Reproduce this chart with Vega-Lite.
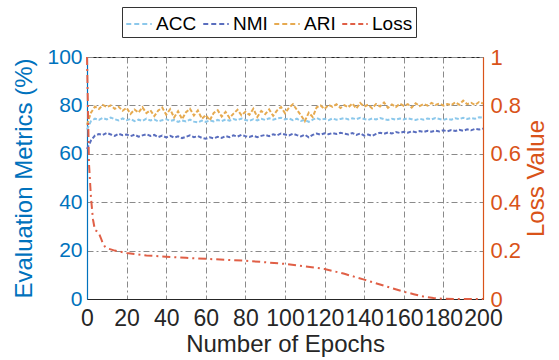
{
  "$schema": "https://vega.github.io/schema/vega-lite/v6.json",
  "autosize": "none",
  "width": 396,
  "height": 242,
  "padding": {"left": 87, "top": 57, "right": 76, "bottom": 61},
  "background": "white",
  "config": {
    "font": "Liberation Sans",
    "view": {"stroke": "#262626", "strokeWidth": 1},
    "axis": {"ticks": false, "labelOverlap": false, "labelBound": false, "labelFlush": false, "labelFontSize": 21, "titleFontSize": 24, "titleFontWeight": "normal", "domainWidth": 1.2, "gridDash": [6, 3, 2, 3], "gridColor": "#8a8a8a", "gridWidth": 1}
  },
  "datasets": {
    "metrics": [
      {"epoch":0,"ACC":70,"NMI":62,"ARI":72},
      {"epoch":2,"ACC":73.5,"NMI":65.5,"ARI":77},
      {"epoch":4,"ACC":74.5,"NMI":67.5,"ARI":79.5},
      {"epoch":6,"ACC":74,"NMI":68.2,"ARI":78.5},
      {"epoch":8,"ACC":74.8,"NMI":67.8,"ARI":80.2},
      {"epoch":10,"ACC":74.2,"NMI":68.6,"ARI":79.3},
      {"epoch":12,"ACC":75,"NMI":68,"ARI":80},
      {"epoch":14,"ACC":74.3,"NMI":67.4,"ARI":78.6},
      {"epoch":16,"ACC":73.8,"NMI":68.3,"ARI":79.4},
      {"epoch":18,"ACC":74.6,"NMI":67.7,"ARI":77.8},
      {"epoch":20,"ACC":73.9,"NMI":68,"ARI":79},
      {"epoch":22,"ACC":74.4,"NMI":67.3,"ARI":76.5},
      {"epoch":24,"ACC":73.5,"NMI":67.9,"ARI":78.3},
      {"epoch":26,"ACC":74.1,"NMI":67.1,"ARI":77},
      {"epoch":28,"ACC":73.6,"NMI":67.6,"ARI":79.2},
      {"epoch":30,"ACC":74.5,"NMI":68.1,"ARI":76.8},
      {"epoch":32,"ACC":73.8,"NMI":67.4,"ARI":78},
      {"epoch":34,"ACC":74.2,"NMI":67.8,"ARI":75.6},
      {"epoch":36,"ACC":73.4,"NMI":66.9,"ARI":77.9},
      {"epoch":38,"ACC":73.9,"NMI":67.5,"ARI":79.1},
      {"epoch":40,"ACC":74.3,"NMI":66.8,"ARI":76.2},
      {"epoch":42,"ACC":73.6,"NMI":67.4,"ARI":78.4},
      {"epoch":44,"ACC":74,"NMI":66.7,"ARI":75},
      {"epoch":46,"ACC":73.2,"NMI":67.2,"ARI":77.6},
      {"epoch":48,"ACC":73.8,"NMI":66.5,"ARI":74.3},
      {"epoch":50,"ACC":73.4,"NMI":67,"ARI":77.2},
      {"epoch":52,"ACC":74.1,"NMI":67.6,"ARI":78.6},
      {"epoch":54,"ACC":73.3,"NMI":66.9,"ARI":75.8},
      {"epoch":56,"ACC":73,"NMI":67.3,"ARI":77.9},
      {"epoch":58,"ACC":73.7,"NMI":66.6,"ARI":74.5},
      {"epoch":60,"ACC":73.2,"NMI":66.2,"ARI":76},
      {"epoch":62,"ACC":73.8,"NMI":66.8,"ARI":73.8},
      {"epoch":64,"ACC":73.4,"NMI":66.4,"ARI":76.9},
      {"epoch":66,"ACC":74,"NMI":67,"ARI":78},
      {"epoch":68,"ACC":73.5,"NMI":66.6,"ARI":75.4},
      {"epoch":70,"ACC":74.2,"NMI":67.3,"ARI":77.3},
      {"epoch":72,"ACC":73.7,"NMI":66.9,"ARI":74.8},
      {"epoch":74,"ACC":74.4,"NMI":67.6,"ARI":76.6},
      {"epoch":76,"ACC":73.9,"NMI":67.1,"ARI":78.2},
      {"epoch":78,"ACC":74.6,"NMI":67.8,"ARI":75.9},
      {"epoch":80,"ACC":74,"NMI":67.3,"ARI":77.4},
      {"epoch":82,"ACC":73.6,"NMI":67,"ARI":76.1},
      {"epoch":84,"ACC":74.3,"NMI":67.5,"ARI":78.6},
      {"epoch":86,"ACC":73.8,"NMI":66.9,"ARI":75.2},
      {"epoch":88,"ACC":74.5,"NMI":67.4,"ARI":77.7},
      {"epoch":90,"ACC":74,"NMI":67.8,"ARI":76.4},
      {"epoch":92,"ACC":74.7,"NMI":67.3,"ARI":78.3},
      {"epoch":94,"ACC":74.1,"NMI":68.1,"ARI":75.7},
      {"epoch":96,"ACC":74.6,"NMI":67.6,"ARI":77.9},
      {"epoch":98,"ACC":74.9,"NMI":68.4,"ARI":79.3},
      {"epoch":100,"ACC":74.2,"NMI":68,"ARI":76.8},
      {"epoch":102,"ACC":74.6,"NMI":67.6,"ARI":79},
      {"epoch":104,"ACC":73.9,"NMI":68.3,"ARI":80.5},
      {"epoch":106,"ACC":74.5,"NMI":67.7,"ARI":78.2},
      {"epoch":108,"ACC":73.6,"NMI":67.2,"ARI":76},
      {"epoch":110,"ACC":74,"NMI":67.9,"ARI":73.5},
      {"epoch":112,"ACC":73.2,"NMI":66.8,"ARI":77},
      {"epoch":114,"ACC":74.1,"NMI":67.8,"ARI":75.2},
      {"epoch":116,"ACC":74.8,"NMI":68.4,"ARI":79.2},
      {"epoch":118,"ACC":74,"NMI":67.9,"ARI":80},
      {"epoch":120,"ACC":74.5,"NMI":68.5,"ARI":78.5},
      {"epoch":122,"ACC":73.9,"NMI":68.1,"ARI":80.2},
      {"epoch":124,"ACC":74.6,"NMI":68.6,"ARI":79.4},
      {"epoch":126,"ACC":74.1,"NMI":68.2,"ARI":80.5},
      {"epoch":128,"ACC":74.4,"NMI":68.7,"ARI":78.9},
      {"epoch":130,"ACC":74.8,"NMI":68.3,"ARI":80.1},
      {"epoch":132,"ACC":74.2,"NMI":68,"ARI":79.2},
      {"epoch":134,"ACC":74.7,"NMI":68.6,"ARI":80.8},
      {"epoch":136,"ACC":74.3,"NMI":67.8,"ARI":78.7},
      {"epoch":138,"ACC":74.9,"NMI":68.4,"ARI":81},
      {"epoch":140,"ACC":74.4,"NMI":67.5,"ARI":79.5},
      {"epoch":142,"ACC":74,"NMI":68,"ARI":80.3},
      {"epoch":144,"ACC":74.6,"NMI":67.4,"ARI":78.8},
      {"epoch":146,"ACC":74.2,"NMI":68.2,"ARI":80.6},
      {"epoch":148,"ACC":74.8,"NMI":68.7,"ARI":79.6},
      {"epoch":150,"ACC":74.3,"NMI":68.3,"ARI":81.2},
      {"epoch":152,"ACC":74,"NMI":68.8,"ARI":79},
      {"epoch":154,"ACC":74.5,"NMI":68.4,"ARI":80.4},
      {"epoch":156,"ACC":74.1,"NMI":69,"ARI":79.3},
      {"epoch":158,"ACC":74.6,"NMI":68.6,"ARI":80.7},
      {"epoch":160,"ACC":74.2,"NMI":69.1,"ARI":79.8},
      {"epoch":162,"ACC":74.7,"NMI":68.7,"ARI":80.5},
      {"epoch":164,"ACC":74.3,"NMI":69.3,"ARI":79.1},
      {"epoch":166,"ACC":74,"NMI":68.9,"ARI":80.9},
      {"epoch":168,"ACC":74.5,"NMI":69.4,"ARI":79.7},
      {"epoch":170,"ACC":74.1,"NMI":69,"ARI":80.6},
      {"epoch":172,"ACC":74.6,"NMI":69.5,"ARI":79.9},
      {"epoch":174,"ACC":74.2,"NMI":69.1,"ARI":81},
      {"epoch":176,"ACC":74.8,"NMI":69.6,"ARI":80.2},
      {"epoch":178,"ACC":74.4,"NMI":69.2,"ARI":80.8},
      {"epoch":180,"ACC":74,"NMI":69.7,"ARI":79.9},
      {"epoch":182,"ACC":74.5,"NMI":69.3,"ARI":80.6},
      {"epoch":184,"ACC":74.1,"NMI":69.8,"ARI":80.1},
      {"epoch":186,"ACC":74.7,"NMI":69.4,"ARI":81.3},
      {"epoch":188,"ACC":74.3,"NMI":69.9,"ARI":80.3},
      {"epoch":190,"ACC":74.9,"NMI":69.5,"ARI":82},
      {"epoch":192,"ACC":74.4,"NMI":70.1,"ARI":80.5},
      {"epoch":194,"ACC":74.8,"NMI":69.7,"ARI":81.1},
      {"epoch":196,"ACC":74.5,"NMI":70.3,"ARI":80.2},
      {"epoch":198,"ACC":75.1,"NMI":70,"ARI":81.4},
      {"epoch":200,"ACC":74.9,"NMI":70.4,"ARI":80.8}
    ],
    "loss": [
      {"epoch":0,"Loss":1.0},
      {"epoch":1,"Loss":0.56},
      {"epoch":2,"Loss":0.42},
      {"epoch":3,"Loss":0.33},
      {"epoch":4,"Loss":0.285},
      {"epoch":5,"Loss":0.28},
      {"epoch":6,"Loss":0.272},
      {"epoch":7,"Loss":0.252},
      {"epoch":8,"Loss":0.23},
      {"epoch":9,"Loss":0.217},
      {"epoch":10,"Loss":0.21},
      {"epoch":12,"Loss":0.205},
      {"epoch":14,"Loss":0.2},
      {"epoch":17,"Loss":0.195},
      {"epoch":20,"Loss":0.19},
      {"epoch":25,"Loss":0.185},
      {"epoch":30,"Loss":0.18},
      {"epoch":40,"Loss":0.175},
      {"epoch":50,"Loss":0.17},
      {"epoch":60,"Loss":0.166},
      {"epoch":70,"Loss":0.162},
      {"epoch":80,"Loss":0.158},
      {"epoch":90,"Loss":0.152},
      {"epoch":100,"Loss":0.145},
      {"epoch":110,"Loss":0.135},
      {"epoch":120,"Loss":0.124},
      {"epoch":130,"Loss":0.104},
      {"epoch":140,"Loss":0.08},
      {"epoch":150,"Loss":0.055},
      {"epoch":160,"Loss":0.03},
      {"epoch":165,"Loss":0.02},
      {"epoch":170,"Loss":0.01},
      {"epoch":175,"Loss":0.004},
      {"epoch":180,"Loss":0.001},
      {"epoch":190,"Loss":0},
      {"epoch":200,"Loss":0}
    ]
  },
  "layer": [
    {
      "data": {"name": "metrics"},
      "transform": [{"fold": ["ACC", "NMI", "ARI"], "as": ["metric", "val"]}],
      "mark": {"type": "line", "strokeWidth": 2, "strokeDash": [4, 2]},
      "encoding": {
        "x": {"field": "epoch", "type": "quantitative", "scale": {"domain": [0, 200], "nice": false},
              "axis": {"values": [0,20,40,60,80,100,120,140,160,180,200], "title": "Number of Epochs", "labelFontSize": 23, "labelPadding": 8, "titlePadding": 2, "domainColor": "#262626", "labelColor": "#262626", "titleColor": "#262626"}},
        "y": {"field": "val", "type": "quantitative", "scale": {"domain": [0, 100], "nice": false},
              "axis": {"orient": "left", "values": [0,20,40,60,80,100], "title": "Evaluation Metrics (%)", "labelPadding": 5, "titlePadding": 10, "domainColor": "#0072BD", "labelColor": "#0072BD", "titleColor": "#0072BD"}},
        "color": {"field": "metric", "type": "nominal",
                  "scale": {"domain": ["ACC", "NMI", "ARI", "Loss"], "range": ["#8CC8EB", "#5A6EBE", "#E6AA50", "#E05F46"]},
                  "legend": {"orient": "none", "legendX": 35, "legendY": -50, "direction": "horizontal", "columns": 4, "gridAlign": "none", "title": null,
                             "symbolType": "stroke", "symbolSize": 650, "symbolStrokeWidth": 2, "symbolDash": [5, 3],
                             "labelFontSize": 19, "labelColor": "#000000", "labelOffset": 3, "columnPadding": 2,
                             "padding": 3, "strokeColor": "#333333", "fillColor": "white"}},
        "detail": {"field": "metric"}
      }
    },
    {
      "data": {"name": "loss"},
      "mark": {"type": "line", "strokeWidth": 2, "strokeDash": [8, 4, 2, 4]},
      "encoding": {
        "x": {"field": "epoch", "type": "quantitative", "scale": {"domain": [0, 200], "nice": false},
              "axis": {"values": [0,20,40,60,80,100,120,140,160,180,200], "title": "Number of Epochs", "labelFontSize": 23, "labelPadding": 8, "titlePadding": 2, "domainColor": "#262626", "labelColor": "#262626", "titleColor": "#262626"}},
        "y": {"field": "Loss", "type": "quantitative", "scale": {"domain": [0, 1], "nice": false},
              "axis": {"orient": "right", "values": [0,0.2,0.4,0.6,0.8,1], "format": "~g", "grid": false, "title": "Loss Value", "titleAngle": 270, "titleBaseline": "top", "labelFontSize": 22, "labelPadding": 7, "titlePadding": 4, "domainColor": "#D95319", "labelColor": "#D95319", "titleColor": "#D95319"}},
        "color": {"datum": "Loss", "type": "nominal"}
      }
    }
  ],
  "resolve": {"scale": {"y": "independent"}, "axis": {"y": "independent"}}
}
